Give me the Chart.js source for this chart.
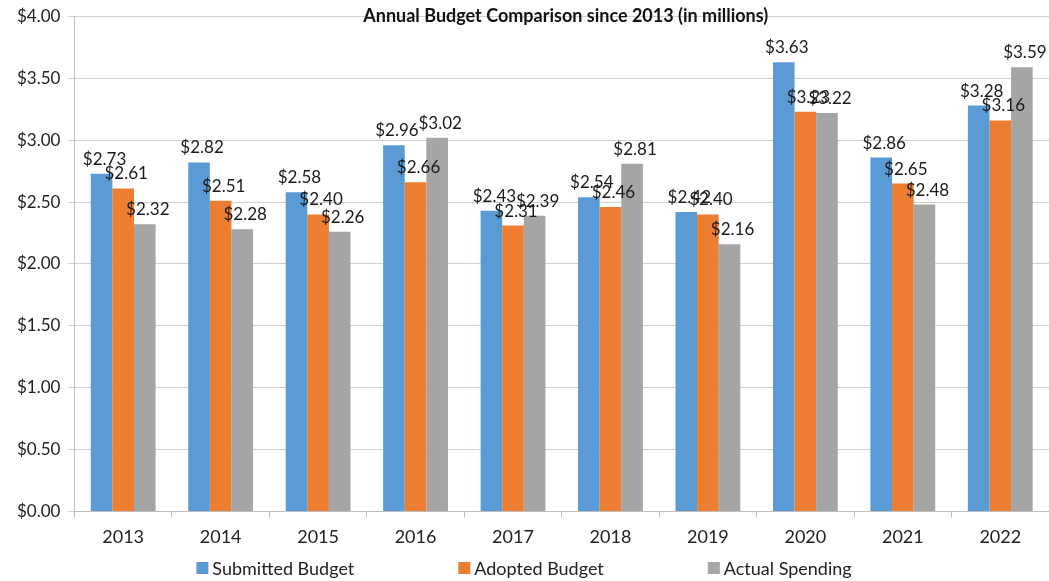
<!DOCTYPE html>
<html>
<head>
<meta charset="utf-8">
<script src="https://cdn.jsdelivr.net/npm/chart.js@4/dist/chart.umd.min.js"></script>
<style>
  html, body { margin: 0; padding: 0; background: #fff; }
  #wrap { width: 1049px; height: 581px; }
</style>
</head>
<body>
<div id="wrap"><canvas id="budgetChart" width="1049" height="581"></canvas></div>
<script>
// Annual budget comparison, values in millions
const years = ['2013', '2014', '2015', '2016', '2017', '2018', '2019', '2020', '2021', '2022'];
const submittedBudget = [2.73, 2.82, 2.58, 2.96, 2.43, 2.54, 2.42, 3.63, 2.86, 3.28];
const adoptedBudget   = [2.61, 2.51, 2.40, 2.66, 2.31, 2.46, 2.40, 3.23, 2.65, 3.16];
const actualSpending  = [2.32, 2.28, 2.26, 3.02, 2.39, 2.81, 2.16, 3.22, 2.48, 3.59];
const yTicks = [0, 0.5, 1, 1.5, 2, 2.5, 3, 3.5, 4];

const FONT = 'Lato, "Open Sans", sans-serif';
const money = v => '$' + v.toFixed(2);

// value labels on top of each bar
const barLabels = {
    id: 'barLabels',
    afterDatasetsDraw(chart) {
        const ctx = chart.ctx;
        ctx.save();
        ctx.font = '17px ' + FONT;
        ctx.fillStyle = '#1a1a1a';
        ctx.textAlign = 'center';
        ctx.textBaseline = 'alphabetic';
        chart.data.datasets.forEach((ds, i) => {
            chart.getDatasetMeta(i).data.forEach((bar, j) => {
                ctx.fillText(money(ds.data[j]), bar.x + 3, bar.y - 9);
            });
        });
        ctx.restore();
    }
};

// title sits on the top gridline + legend drawn by hand (wide spacing)
const titleAndLegend = {
    id: 'titleAndLegend',
    afterDraw(chart) {
        const ctx = chart.ctx;
        const area = chart.chartArea;
        ctx.save();
        ctx.font = 'bold 18px ' + FONT;
        ctx.fillStyle = '#111';
        ctx.textAlign = 'center';
        ctx.textBaseline = 'middle';
        ctx.fillText('Annual Budget Comparison since 2013 (in millions)', (area.left + area.right) / 2 + 4, 16);

        // legend
        ctx.font = '18px ' + FONT;
        ctx.textAlign = 'left';
        const gap = 104, box = 12, boxGap = 4;
        const items = chart.data.datasets.map(ds => ({
            text: ds.label, color: ds.backgroundColor, w: box + boxGap + ctx.measureText(ds.label).width
        }));
        const total = items.reduce((s, it) => s + it.w, 0) + gap * (items.length - 1);
        let x = 524 - total / 2;
        const y = 568;
        items.forEach(it => {
            ctx.fillStyle = it.color;
            ctx.fillRect(x, y - box / 2, box, box);
            ctx.fillStyle = '#222';
            ctx.fillText(it.text, x + box + boxGap, y + 1);
            x += it.w + gap;
        });
        ctx.restore();
    }
};

new Chart(document.getElementById('budgetChart'), {
    type: 'bar',
    data: {
        labels: years,
        datasets: [
            { label: 'Submitted Budget', data: submittedBudget, backgroundColor: '#5B9BD5' },
            { label: 'Adopted Budget',   data: adoptedBudget,   backgroundColor: '#ED7D31' },
            { label: 'Actual Spending',  data: actualSpending,  backgroundColor: '#A5A5A5' }
        ]
    },
    options: {
        responsive: false,
        animation: false,
        layout: { padding: { top: 0, right: 0, left: 9, bottom: 24 } },
        datasets: { bar: { barPercentage: 1.0, categoryPercentage: 0.665 } },
        plugins: {
            title: { display: false },
            tooltip: { enabled: false },
            legend: { display: false }
        },
        scales: {
            x: {
                grid: { drawOnChartArea: false, drawTicks: true, tickLength: 6, color: '#bfbfbf' },
                border: { color: '#bfbfbf' },
                ticks: { font: { family: FONT, size: 18 }, color: '#222', padding: 9 }
            },
            y: {
                min: 0,
                max: 4,
                afterBuildTicks: axis => { axis.ticks = yTicks.map(v => ({ value: v })); },
                grid: { color: '#d0d0d0', tickLength: 6 },
                border: { color: '#bfbfbf' },
                ticks: {
                    font: { family: FONT, size: 17, lineHeight: 1.0 },
                    color: '#222',
                    padding: 8,
                    callback: v => money(v)
                }
            }
        }
    },
    plugins: [barLabels, titleAndLegend]
});
</script>
</body>
</html>
